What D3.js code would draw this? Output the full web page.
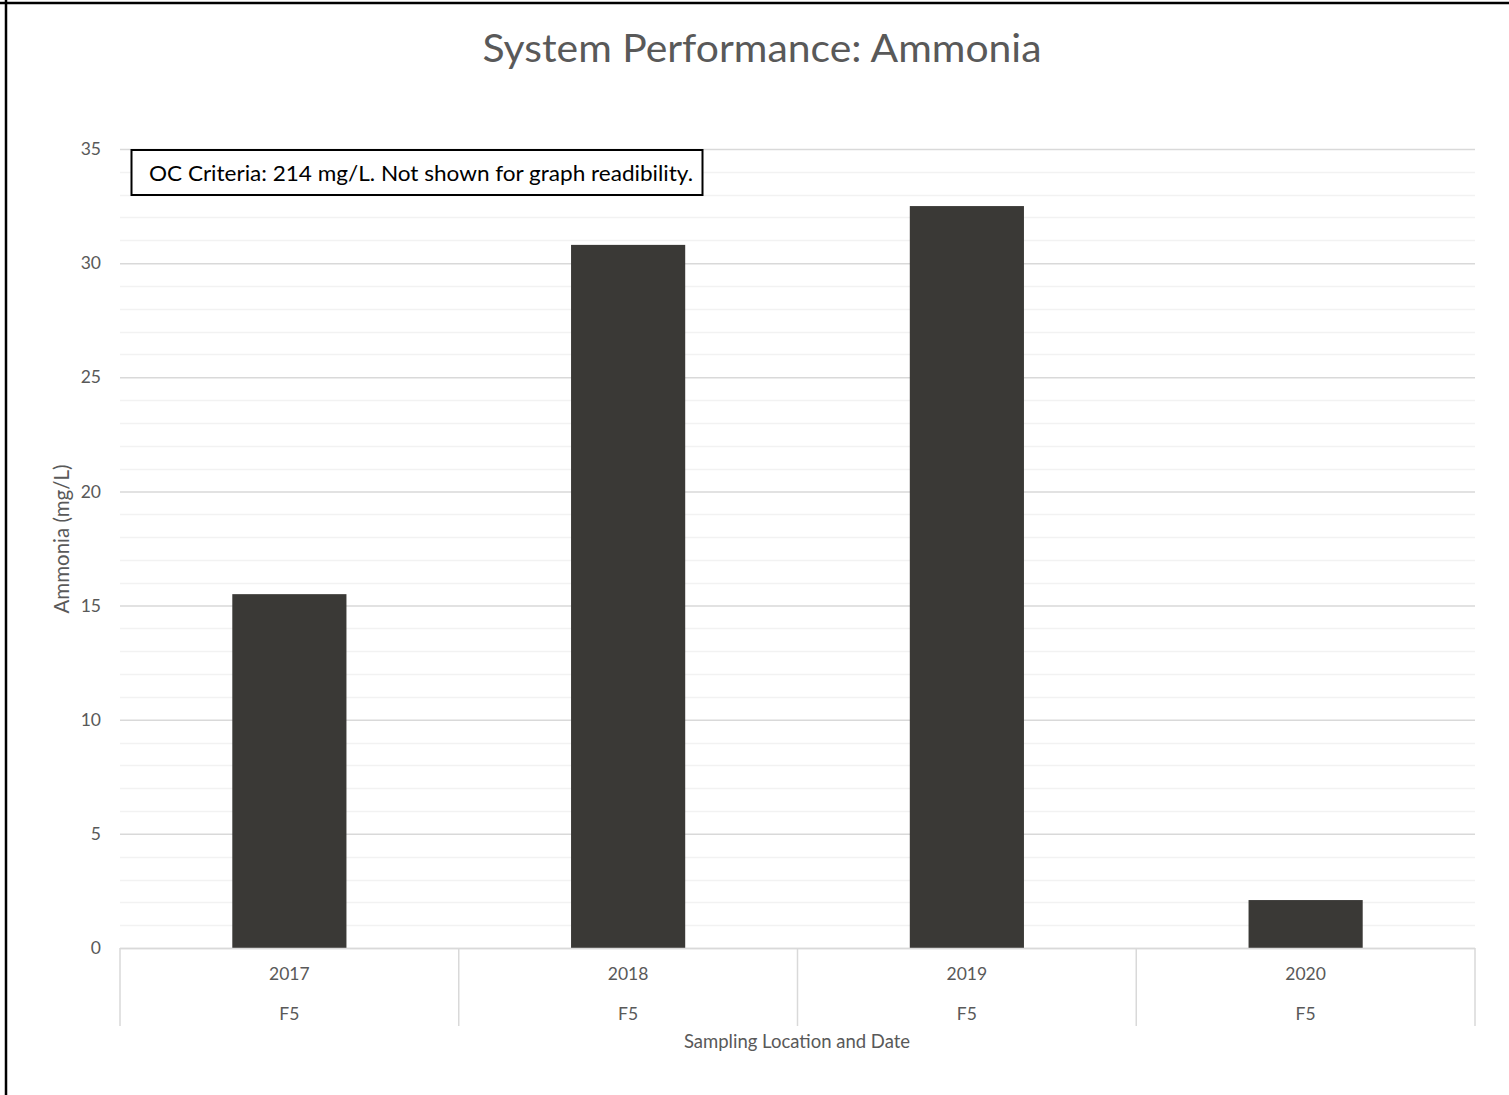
<!DOCTYPE html>
<html>
<head>
<meta charset="utf-8">
<script src="https://cdn.jsdelivr.net/npm/d3@7"></script>
<style>
  html, body { margin: 0; padding: 0; background: #fff; }
  svg { display: block; font-family: Lato, "Open Sans", sans-serif; }
</style>
</head>
<body>
<svg id="chart" width="1509" height="1095"></svg>
<script>
// Ammonia results at sampling location F5, by year
const years = ["2017", "2018", "2019", "2020"];
const locations = ["F5", "F5", "F5", "F5"];
const ammonia = [15.5, 30.8, 32.5, 2.1];
const yTicks = [0, 5, 10, 15, 20, 25, 30, 35];
const minorTicks = d3.range(0, 36, 1);

const chartTitle = "System Performance: Ammonia";
const yTitle = "Ammonia (mg/L)";
const xTitle = "Sampling Location and Date";
const note = "OC Criteria: 214 mg/L. Not shown for graph readibility.";

const svg = d3.select("#chart");
const W = 1509, H = 1095;
const plot = { left: 120, right: 1475, top: 149, bottom: 948 };

const x = d3.scaleBand()
  .domain(years.map((d, i) => i))
  .range([plot.left, plot.right])
  .paddingInner(0)
  .paddingOuter(0);

const y = d3.scaleLinear().domain([0, 35]).range([plot.bottom, plot.top]);

// frame edges (top and left)
svg.append("line").attr("x1", 0).attr("x2", W).attr("y1", 3).attr("y2", 3)
  .attr("stroke", "#000").attr("stroke-width", 2.5);
svg.append("line").attr("x1", 6).attr("x2", 6).attr("y1", 0).attr("y2", H)
  .attr("stroke", "#000").attr("stroke-width", 2.5);

// title
svg.append("text")
  .attr("x", 762).attr("y", 62)
  .attr("text-anchor", "middle")
  .attr("font-size", 39)
  .attr("textLength", 559)
  .attr("lengthAdjust", "spacingAndGlyphs")
  .attr("fill", "#595959")
  .text(chartTitle);

// minor gridlines
svg.append("g")
  .selectAll("line")
  .data(minorTicks.filter(v => v % 5 !== 0))
  .join("line")
  .attr("x1", plot.left).attr("x2", plot.right)
  .attr("y1", d => Math.round(y(d)) + 0.5).attr("y2", d => Math.round(y(d)) + 0.5)
  .attr("stroke", "#f2f2f2").attr("stroke-width", 1.5);

// major gridlines via axis
const yAxis = d3.axisLeft(y)
  .tickValues(yTicks)
  .tickSize(-(plot.right - plot.left))
  .tickPadding(19)
  .tickFormat(d3.format("d"));

const gy = svg.append("g")
  .attr("transform", `translate(${plot.left},0)`)
  .call(yAxis);
gy.select(".domain").remove();
gy.selectAll(".tick line")
  .attr("stroke", "#d9d9d9")
  .attr("stroke-width", 1.5);
gy.selectAll(".tick text")
  .attr("fill", "#595959")
  .attr("font-size", 17.5)
  .attr("font-family", "Lato, sans-serif");

// bars
svg.append("g")
  .selectAll("rect")
  .data(ammonia)
  .join("rect")
  .attr("x", (d, i) => x(i) + x.bandwidth() * 0.3315)
  .attr("width", x.bandwidth() * 0.337)
  .attr("y", d => y(d))
  .attr("height", d => y(0) - y(d))
  .attr("fill", "#3a3936");

// category axis: separators and two-level labels
const xAxisG = svg.append("g");
xAxisG.append("line")
  .attr("x1", plot.left).attr("x2", plot.right)
  .attr("y1", plot.bottom + 0.5).attr("y2", plot.bottom + 0.5)
  .attr("stroke", "#d9d9d9").attr("stroke-width", 1.5);
const bounds = years.map((d, i) => x(i)).concat([plot.right]);
xAxisG.selectAll("line.sep")
  .data(bounds)
  .join("line")
  .attr("class", "sep")
  .attr("x1", d => d).attr("x2", d => d)
  .attr("y1", plot.bottom).attr("y2", 1026)
  .attr("stroke", "#d9d9d9").attr("stroke-width", 1.5);

xAxisG.selectAll("text.year")
  .data(years)
  .join("text")
  .attr("class", "year")
  .attr("x", (d, i) => x(i) + x.bandwidth() / 2)
  .attr("y", 980)
  .attr("text-anchor", "middle")
  .attr("font-size", 17.5)
  .attr("fill", "#595959")
  .text(d => d);

xAxisG.selectAll("text.loc")
  .data(locations)
  .join("text")
  .attr("class", "loc")
  .attr("x", (d, i) => x(i) + x.bandwidth() / 2)
  .attr("y", 1020)
  .attr("text-anchor", "middle")
  .attr("font-size", 17.5)
  .attr("fill", "#595959")
  .text(d => d);

// axis titles
svg.append("text")
  .attr("x", 797).attr("y", 1048)
  .attr("text-anchor", "middle")
  .attr("font-size", 18.5)
  .attr("fill", "#595959")
  .text(xTitle);

svg.append("text")
  .attr("transform", `translate(69,${539}) rotate(-90)`)
  .attr("text-anchor", "middle")
  .attr("font-size", 20.5)
  .attr("fill", "#595959")
  .text(yTitle);

// note box
const noteG = svg.append("g");
noteG.append("rect")
  .attr("x", 131.5).attr("y", 150)
  .attr("width", 571).attr("height", 45)
  .attr("fill", "#fff").attr("stroke", "#000").attr("stroke-width", 2);
noteG.append("text")
  .attr("x", 149).attr("y", 181)
  .attr("font-size", 21.5)
  .attr("textLength", 544)
  .attr("lengthAdjust", "spacingAndGlyphs")
  .attr("fill", "#000")
  .text(note);
</script>
</body>
</html>
